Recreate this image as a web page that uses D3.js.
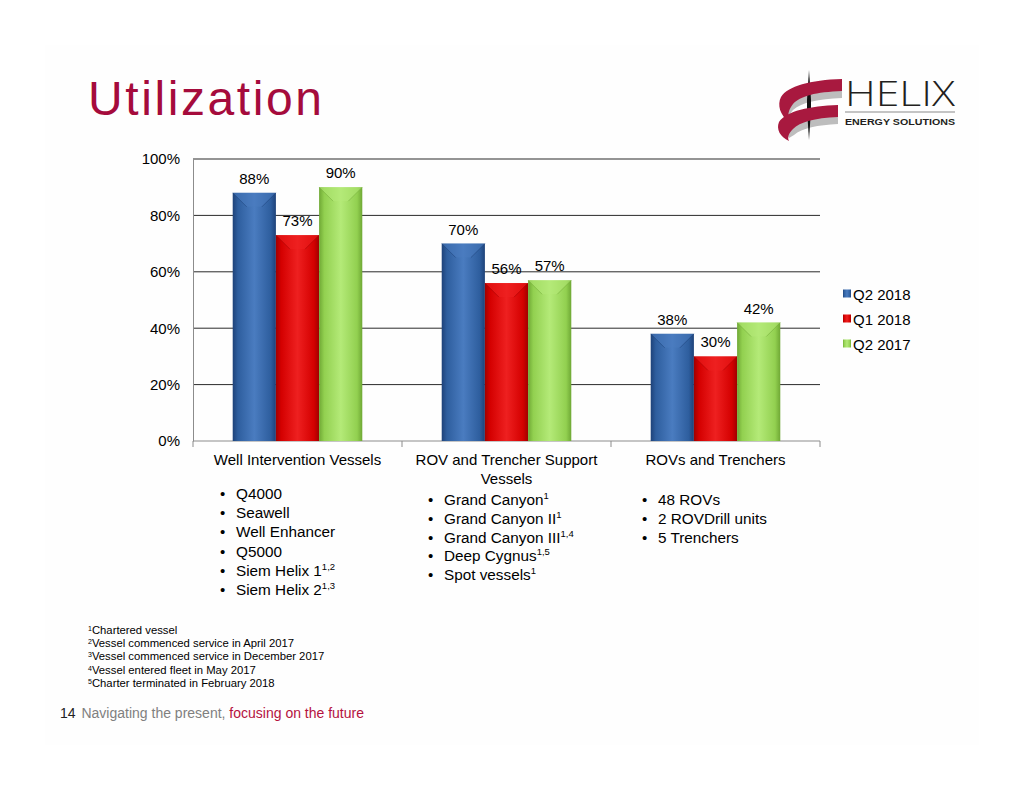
<!DOCTYPE html>
<html><head><meta charset="utf-8">
<script src="https://cdn.jsdelivr.net/npm/d3@7"></script>
<style>body{margin:0;background:#fff;}svg{display:block;font-family:"Liberation Sans",Arial,sans-serif;}</style>
</head><body>
<svg id="chart" width="1024" height="791"></svg>
<script>
// ---- data ----
const categories = ["Well Intervention Vessels", "ROV and Trencher Support Vessels", "ROVs and Trenchers"];
const categoryLines = [["Well Intervention Vessels"], ["ROV and Trencher Support", "Vessels"], ["ROVs and Trenchers"]];
const seriesNames = ["Q2 2018", "Q1 2018", "Q2 2017"];
const q2_2018 = [88, 70, 38];
const q1_2018 = [73, 56, 30];
const q2_2017 = [90, 57, 42];
const yTicks = [0, 20, 40, 60, 80, 100];
const bulletsWell = [["Q4000",""],["Seawell",""],["Well Enhancer",""],["Q5000",""],["Siem Helix 1","1,2"],["Siem Helix 2","1,3"]];
const bulletsRov = [["Grand Canyon","1"],["Grand Canyon II","1"],["Grand Canyon III","1,4"],["Deep Cygnus","1,5"],["Spot vessels","1"]];
const bulletsTrench = [["48 ROVs",""],["2 ROVDrill units",""],["5 Trenchers",""]];
const footnotes = [["1","Chartered vessel"],["2","Vessel commenced service in April 2017"],["3","Vessel commenced service in December 2017"],["4","Vessel entered fleet in May 2017"],["5","Charter terminated in February 2018"]];

const seriesValues = [q2_2018, q1_2018, q2_2017];
const colors = [
  {base:"#2E5E9E", dark:"#1E4279", light:"#4A7CC0"},
  {base:"#D40000", dark:"#A00000", light:"#EE2020"},
  {base:"#92D050", dark:"#6FA835", light:"#B4EA78"}
];

const svg = d3.select("#chart");
svg.append("rect").attr("x",45).attr("y",45).attr("width",934).attr("height",700).attr("fill","#fefefe");

svg.append("text").attr("x",88).attr("y",115).attr("fill","#A50B3C")
  .attr("font-size",48).attr("textLength",234).attr("lengthAdjust","spacing").text("Utilization");

const logo = svg.append("g");
logo.append("path").attr("fill","#BDBDBD")
  .attr("d","M786,101 C796,92 816,90 842,90 L842,98 C818,99 802,102 793,110 C790,113 789,117 790,121 L786,118 Z");
logo.append("path").attr("fill","#BDBDBD")
  .attr("d","M782,126 C792,118 814,116 838,116 L838,124 C818,125 802,128 794,135 L789,138 Z");
logo.append("path").attr("fill","#111")
  .attr("d","M809,70 L811,100 L811,110 L809,140 L807,110 L807,100 Z");
logo.append("path").attr("fill","#A8193F")
  .attr("d","M781,97 C788,86 810,80 842,79 L842,91 C816,92 800,96 793,104 C789,109 787,115 789,122 C780,115 777,105 781,97 Z");
logo.append("path").attr("fill","#A8193F")
  .attr("d","M779,122 C786,111 810,106 838,105 L838,117 C814,118 800,122 793,129 C789,133 787,137 789,141 C780,137 776,129 779,122 Z");
logo.append("text").attr("x",845).attr("y",106).attr("font-size",35).attr("fill","#231F20")
  .attr("font-family","'Open Sans',sans-serif").attr("font-weight",300).attr("textLength",110).attr("lengthAdjust","spacingAndGlyphs").text("HELIX");
logo.append("line").attr("x1",845).attr("x2",955).attr("y1",112).attr("y2",112).attr("stroke","#8a8a8a").attr("stroke-width",1.2);
logo.append("text").attr("x",845).attr("y",125).attr("font-size",9.5).attr("font-weight","bold").attr("fill","#231F20")
  .attr("textLength",110).attr("lengthAdjust","spacingAndGlyphs").text("ENERGY SOLUTIONS");

const plotL = 193, plotR = 820, plotT = 159, plotB = 441;
const y = d3.scaleLinear().domain([0,100]).range([plotB, plotT]);
const x0 = d3.scaleBand().domain(categories).range([plotL, plotR]).paddingInner(0.38).paddingOuter(0.19);
const x1 = d3.scaleBand().domain(seriesNames).range([0, x0.bandwidth()]).padding(0);

const defs = svg.append("defs");
colors.forEach((c,i)=>{
  const g = defs.append("linearGradient").attr("id","grad"+i).attr("x1","0").attr("x2","1").attr("y1","0").attr("y2","0");
  g.append("stop").attr("offset","0").attr("stop-color",c.dark);
  g.append("stop").attr("offset","0.12").attr("stop-color",c.base);
  g.append("stop").attr("offset","0.5").attr("stop-color",c.light);
  g.append("stop").attr("offset","0.88").attr("stop-color",c.base);
  g.append("stop").attr("offset","1").attr("stop-color",c.dark);
});

svg.append("g").selectAll("line").data(yTicks.filter(t=>t>0)).join("line")
  .attr("x1",plotL).attr("x2",plotR).attr("y1",d=>y(d)).attr("y2",d=>y(d))
  .attr("stroke","#2a2a2a").attr("stroke-width",1);

const yAxis = svg.append("g").attr("transform",`translate(${plotL},0)`)
  .call(d3.axisLeft(y).tickValues(yTicks).tickFormat(d=>d+"%").tickSize(0).tickPadding(13));
yAxis.select(".domain").attr("stroke","#8c8c8c");
yAxis.selectAll("text").attr("font-size",15).attr("fill","#000").attr("font-family","'Liberation Sans',Arial,sans-serif");

const xAxis = svg.append("g").attr("transform",`translate(0,${plotB})`);
xAxis.append("line").attr("x1",plotL).attr("x2",plotR).attr("stroke","#8c8c8c");
const step = x0.step();
xAxis.selectAll("line.tk").data(d3.range(categories.length+1)).join("line").attr("class","tk")
  .attr("x1",i=>plotL+i*step).attr("x2",i=>plotL+i*step).attr("y1",0).attr("y2",6).attr("stroke","#8c8c8c");

seriesValues.forEach((vals,si)=>{
  const g = svg.append("g");
  vals.forEach((v,ci)=>{
    const bx = x0(categories[ci]) + x1(seriesNames[si]);
    const bw = x1.bandwidth();
    const by = y(v), bh = plotB - y(v);
    g.append("rect").attr("x",bx).attr("y",by).attr("width",bw).attr("height",bh).attr("fill",`url(#grad${si})`);
    const bev = Math.min(bh, 14);
    g.append("path").attr("d",`M${bx},${by} L${bx+bw},${by} L${bx+bw-bev},${by+bev} L${bx+bev},${by+bev} Z`)
      .attr("fill",colors[si].light).attr("opacity",0.55);
    g.append("line").attr("x1",bx).attr("y1",by).attr("x2",bx+bev).attr("y2",by+bev).attr("stroke",colors[si].dark).attr("opacity",0.5);
    g.append("line").attr("x1",bx+bw).attr("y1",by).attr("x2",bx+bw-bev).attr("y2",by+bev).attr("stroke",colors[si].dark).attr("opacity",0.5);
    g.append("text").attr("x",bx+bw/2).attr("y",by-9).attr("text-anchor","middle")
      .attr("font-size",15).attr("fill","#000").text(v+"%");
  });
});

categories.forEach((c,ci)=>{
  const cx = x0(c) + x0.bandwidth()/2;
  categoryLines[ci].forEach((ln,li)=>{
    svg.append("text").attr("x",cx).attr("y",465+li*18.5).attr("text-anchor","middle").attr("font-size",15).attr("fill","#000").text(ln);
  });
});

seriesNames.forEach((s,si)=>{
  const ly = 294 + si*25;
  svg.append("rect").attr("x",843).attr("y",ly-4.5).attr("width",8).attr("height",8).attr("fill",`url(#grad${si})`);
  svg.append("text").attr("x",853).attr("y",ly+5.5).attr("font-size",15).attr("fill","#000").text(s);
});

function bulletList(items, bx, y0, dy){
  items.forEach((it,i)=>{
    const yy = y0 + i*dy;
    svg.append("text").attr("x",bx).attr("y",yy).attr("font-size",15).attr("fill","#000").text("•");
    const t = svg.append("text").attr("x",bx+16).attr("y",yy).attr("font-size",15.3).attr("fill","#000");
    t.append("tspan").text(it[0]);
    if(it[1]) t.append("tspan").attr("dy",-6).attr("font-size",9.5).text(it[1]);
  });
}
bulletList(bulletsWell, 220, 499, 19.2);
bulletList(bulletsRov, 428, 505, 18.8);
bulletList(bulletsTrench, 642, 505, 18.8);

footnotes.forEach((f,i)=>{
  const t = svg.append("text").attr("x",88).attr("y",634+i*13.2).attr("font-size",11.3).attr("fill","#000");
  t.append("tspan").attr("dy",-3).attr("font-size",7).text(f[0]);
  t.append("tspan").attr("dy",3).text(f[1]);
});

const ft = svg.append("text").attr("x",60).attr("y",718).attr("font-size",14);
ft.append("tspan").attr("fill","#222").text("14 ");
ft.append("tspan").attr("fill","#808080").attr("dx",2).text("Navigating the present, ");
ft.append("tspan").attr("fill","#B5123E").text("focusing on the future");
</script>
</body></html>
